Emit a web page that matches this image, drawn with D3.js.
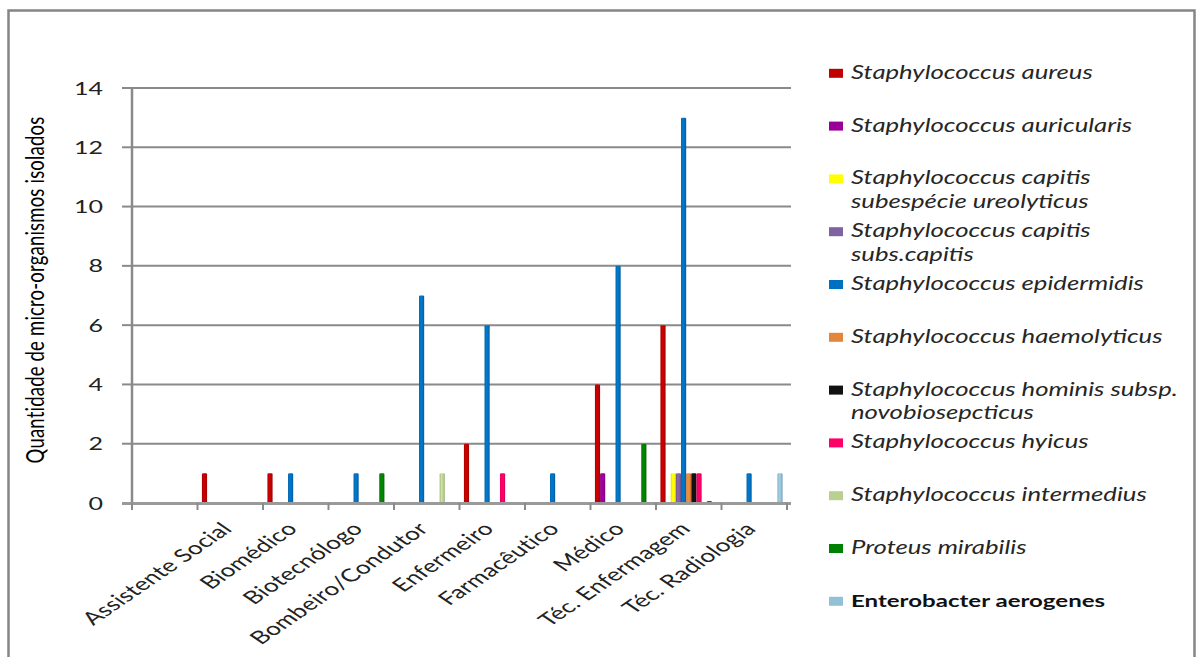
<!DOCTYPE html>
<html>
<head>
<meta charset="utf-8">
<script src="https://cdn.jsdelivr.net/npm/d3@7/dist/d3.min.js"></script>
<style>
  html, body { margin: 0; padding: 0; background: #fff; }
  svg { display: block; }
  text { font-family: Lato, "Open Sans", sans-serif; }
</style>
</head>
<body>
<script>
// Professions (the first slot is an unnamed, empty category)
const categories = ["", "Assistente Social", "Biomédico", "Biotecnólogo", "Bombeiro/Condutor",
  "Enfermeiro", "Farmacêutico", "Médico", "Téc. Enfermagem", "Téc. Radiologia"];

// Isolates per organism, one value per profession (null = none recorded)
const sAureus        = [null, 1, 1, null, null, 2, null, 4, 6, null];
const sAuricularis   = [null, null, null, null, null, null, null, 1, null, null];
const sCapitisUreo   = [null, null, null, null, null, null, null, null, 1, null];
const sCapitisCap    = [null, null, null, null, null, null, null, null, 1, null];
const sEpidermidis   = [null, null, 1, 1, 7, 6, 1, 8, 13, 1];
const sHaemolyticus  = [null, null, null, null, null, null, null, null, 1, null];
const sHominis       = [null, null, null, null, null, null, null, null, 1, null];
const sHyicus        = [null, null, null, null, null, 1, null, null, 1, null];
const sIntermedius   = [null, null, null, null, 1, null, null, null, null, null];
const pMirabilis     = [null, null, null, 1, null, null, null, 2, 0, null];
const eAerogenes     = [null, null, null, null, null, null, null, null, null, 1];

const seriesNames = [
  "Staphylococcus aureus",
  "Staphylococcus auricularis",
  "Staphylococcus capitis\nsubespécie ureolyticus",
  "Staphylococcus capitis\nsubs.capitis",
  "Staphylococcus epidermidis",
  "Staphylococcus haemolyticus",
  "Staphylococcus hominis subsp.\nnovobiosepcticus",
  "Staphylococcus hyicus",
  "Staphylococcus intermedius",
  "Proteus mirabilis",
  "Enterobacter aerogenes"
];
const seriesValues = [sAureus, sAuricularis, sCapitisUreo, sCapitisCap, sEpidermidis,
  sHaemolyticus, sHominis, sHyicus, sIntermedius, pMirabilis, eAerogenes];
const seriesColors = ["#C00000", "#990099", "#FFFF00", "#7F62A0", "#0070C0", "#E4853C",
  "#111111", "#FF0066", "#B9D18F", "#008000", "#92C1D6"];
const italicSeries = [true, true, true, true, true, true, true, true, true, true, false];

const yTicks = [0, 2, 4, 6, 8, 10, 12, 14];
const yTitle = "Quantidade de micro-organismos isolados";

const W = 1196, H = 657;
const SX = 1.39;      // horizontal stretch applied to lettering
const SX_CAT = 1.46;  // stretch for the slanted category names

const svg = d3.select("body").append("svg").attr("width", W).attr("height", H);

// gradients giving the columns a rounded look
const defs = svg.append("defs");
seriesColors.forEach((c, i) => {
  const g = defs.append("linearGradient").attr("id", "grad" + i)
    .attr("x1", "0%").attr("x2", "100%").attr("y1", "0%").attr("y2", "0%");
  const base = d3.color(c);
  g.append("stop").attr("offset", "0%").attr("stop-color", base.darker(0.35));
  g.append("stop").attr("offset", "35%").attr("stop-color", base.brighter(0.25));
  g.append("stop").attr("offset", "70%").attr("stop-color", base);
  g.append("stop").attr("offset", "100%").attr("stop-color", base.darker(0.6));
});

// outer chart frame
svg.append("rect").attr("x", 8.5).attr("y", 10.5).attr("width", 1186).attr("height", 670)
  .attr("fill", "none").attr("stroke", "#858585").attr("stroke-width", 2.5);

const plot = { left: 132, right: 787, top: 88, bottom: 503 };

const x0 = d3.scaleBand().domain(d3.range(categories.length))
  .range([plot.left, plot.right]).paddingInner(0).paddingOuter(0);
const x1 = d3.scaleBand().domain(d3.range(seriesNames.length))
  .range([0, x0.bandwidth()]).paddingInner(0).paddingOuter(0.86);
const y = d3.scaleLinear().domain([0, 14]).range([plot.bottom, plot.top]);

// horizontal gridlines
svg.append("g").selectAll("line").data(yTicks.filter(d => d > 0)).join("line")
  .attr("x1", plot.left).attr("x2", plot.right + 4)
  .attr("y1", d => y(d)).attr("y2", d => y(d))
  .attr("stroke", "#8a8a8a").attr("stroke-width", 2);

// value axis
const yAxis = svg.append("g");
yAxis.append("line").attr("x1", plot.left).attr("x2", plot.left)
  .attr("y1", plot.top).attr("y2", plot.bottom + 2)
  .attr("stroke", "#8a8a8a").attr("stroke-width", 2.5);
yAxis.selectAll("line.tick").data(yTicks).join("line").attr("class", "tick")
  .attr("x1", plot.left - 10).attr("x2", plot.left)
  .attr("y1", d => y(d)).attr("y2", d => y(d))
  .attr("stroke", "#8a8a8a").attr("stroke-width", 2);
yAxis.selectAll("text").data(yTicks).join("text")
  .attr("transform", d => `translate(103,${y(d) + 6.5}) scale(${SX},1)`)
  .attr("text-anchor", "end").attr("font-size", 18).attr("fill", "#222")
  .text(d => d);

// axis title
svg.append("text")
  .attr("transform", `translate(44,290) scale(${SX},1) rotate(-90)`)
  .attr("text-anchor", "middle").attr("font-size", 18.5).attr("fill", "#000")
  .attr("letter-spacing", 0.2)
  .text(yTitle);

// columns
const groups = svg.append("g").selectAll("g").data(seriesValues).join("g")
  .attr("fill", (d, i) => `url(#grad${i})`);
groups.each(function (vals, si) {
  const pts = vals.map((v, ci) => ({ v, ci })).filter(p => p.v !== null);
  d3.select(this).selectAll("rect").data(pts).join("rect")
    .attr("x", p => x0(p.ci) + x1(si))
    .attr("width", x1.bandwidth())
    .attr("y", p => Math.min(y(p.v), plot.bottom - 2))
    .attr("height", p => Math.max(plot.bottom - y(p.v), 2))
    .attr("rx", 1.2);
});

// category axis
const xAxis = svg.append("g");
xAxis.append("line").attr("x1", plot.left - 10).attr("x2", plot.right + 4)
  .attr("y1", plot.bottom + 0.5).attr("y2", plot.bottom + 0.5)
  .attr("stroke", "#9a9a9a").attr("stroke-width", 3);
xAxis.selectAll("line.tick").data(d3.range(categories.length + 1)).join("line").attr("class", "tick")
  .attr("x1", d => plot.left + d * x0.step()).attr("x2", d => plot.left + d * x0.step())
  .attr("y1", plot.bottom).attr("y2", plot.bottom + 7)
  .attr("stroke", "#8a8a8a").attr("stroke-width", 2);
xAxis.selectAll("text").data(categories).join("text")
  .attr("transform", (d, i) => `translate(${x0(i) + x0.bandwidth() / 2 + 3},${plot.bottom + 27}) scale(${SX_CAT},1) rotate(-45)`)
  .attr("text-anchor", "end").attr("font-size", 18).attr("fill", "#222")
  .attr("letter-spacing", 0.2)
  .text(d => d);

// legend
const legend = svg.append("g");
seriesNames.forEach((name, i) => {
  const cy = 73.3 + i * 52.8;
  legend.append("rect").attr("x", 829).attr("y", cy - 4.5).attr("width", 14).attr("height", 9)
    .attr("fill", seriesColors[i]);
  const t = legend.append("text")
    .attr("transform", `translate(851,${cy + 5.5}) scale(${SX},1)`)
    .attr("font-size", italicSeries[i] ? 18.5 : 17.3)
    .attr("fill", italicSeries[i] ? "#262626" : "#111")
    .attr("font-style", italicSeries[i] ? "italic" : "normal")
    .attr("font-weight", italicSeries[i] ? "normal" : "bold");
  name.split("\n").forEach((line, li) => {
    t.append("tspan").attr("x", 0).attr("dy", li === 0 ? 0 : 23.5).text(line);
  });
});
</script>
</body>
</html>
